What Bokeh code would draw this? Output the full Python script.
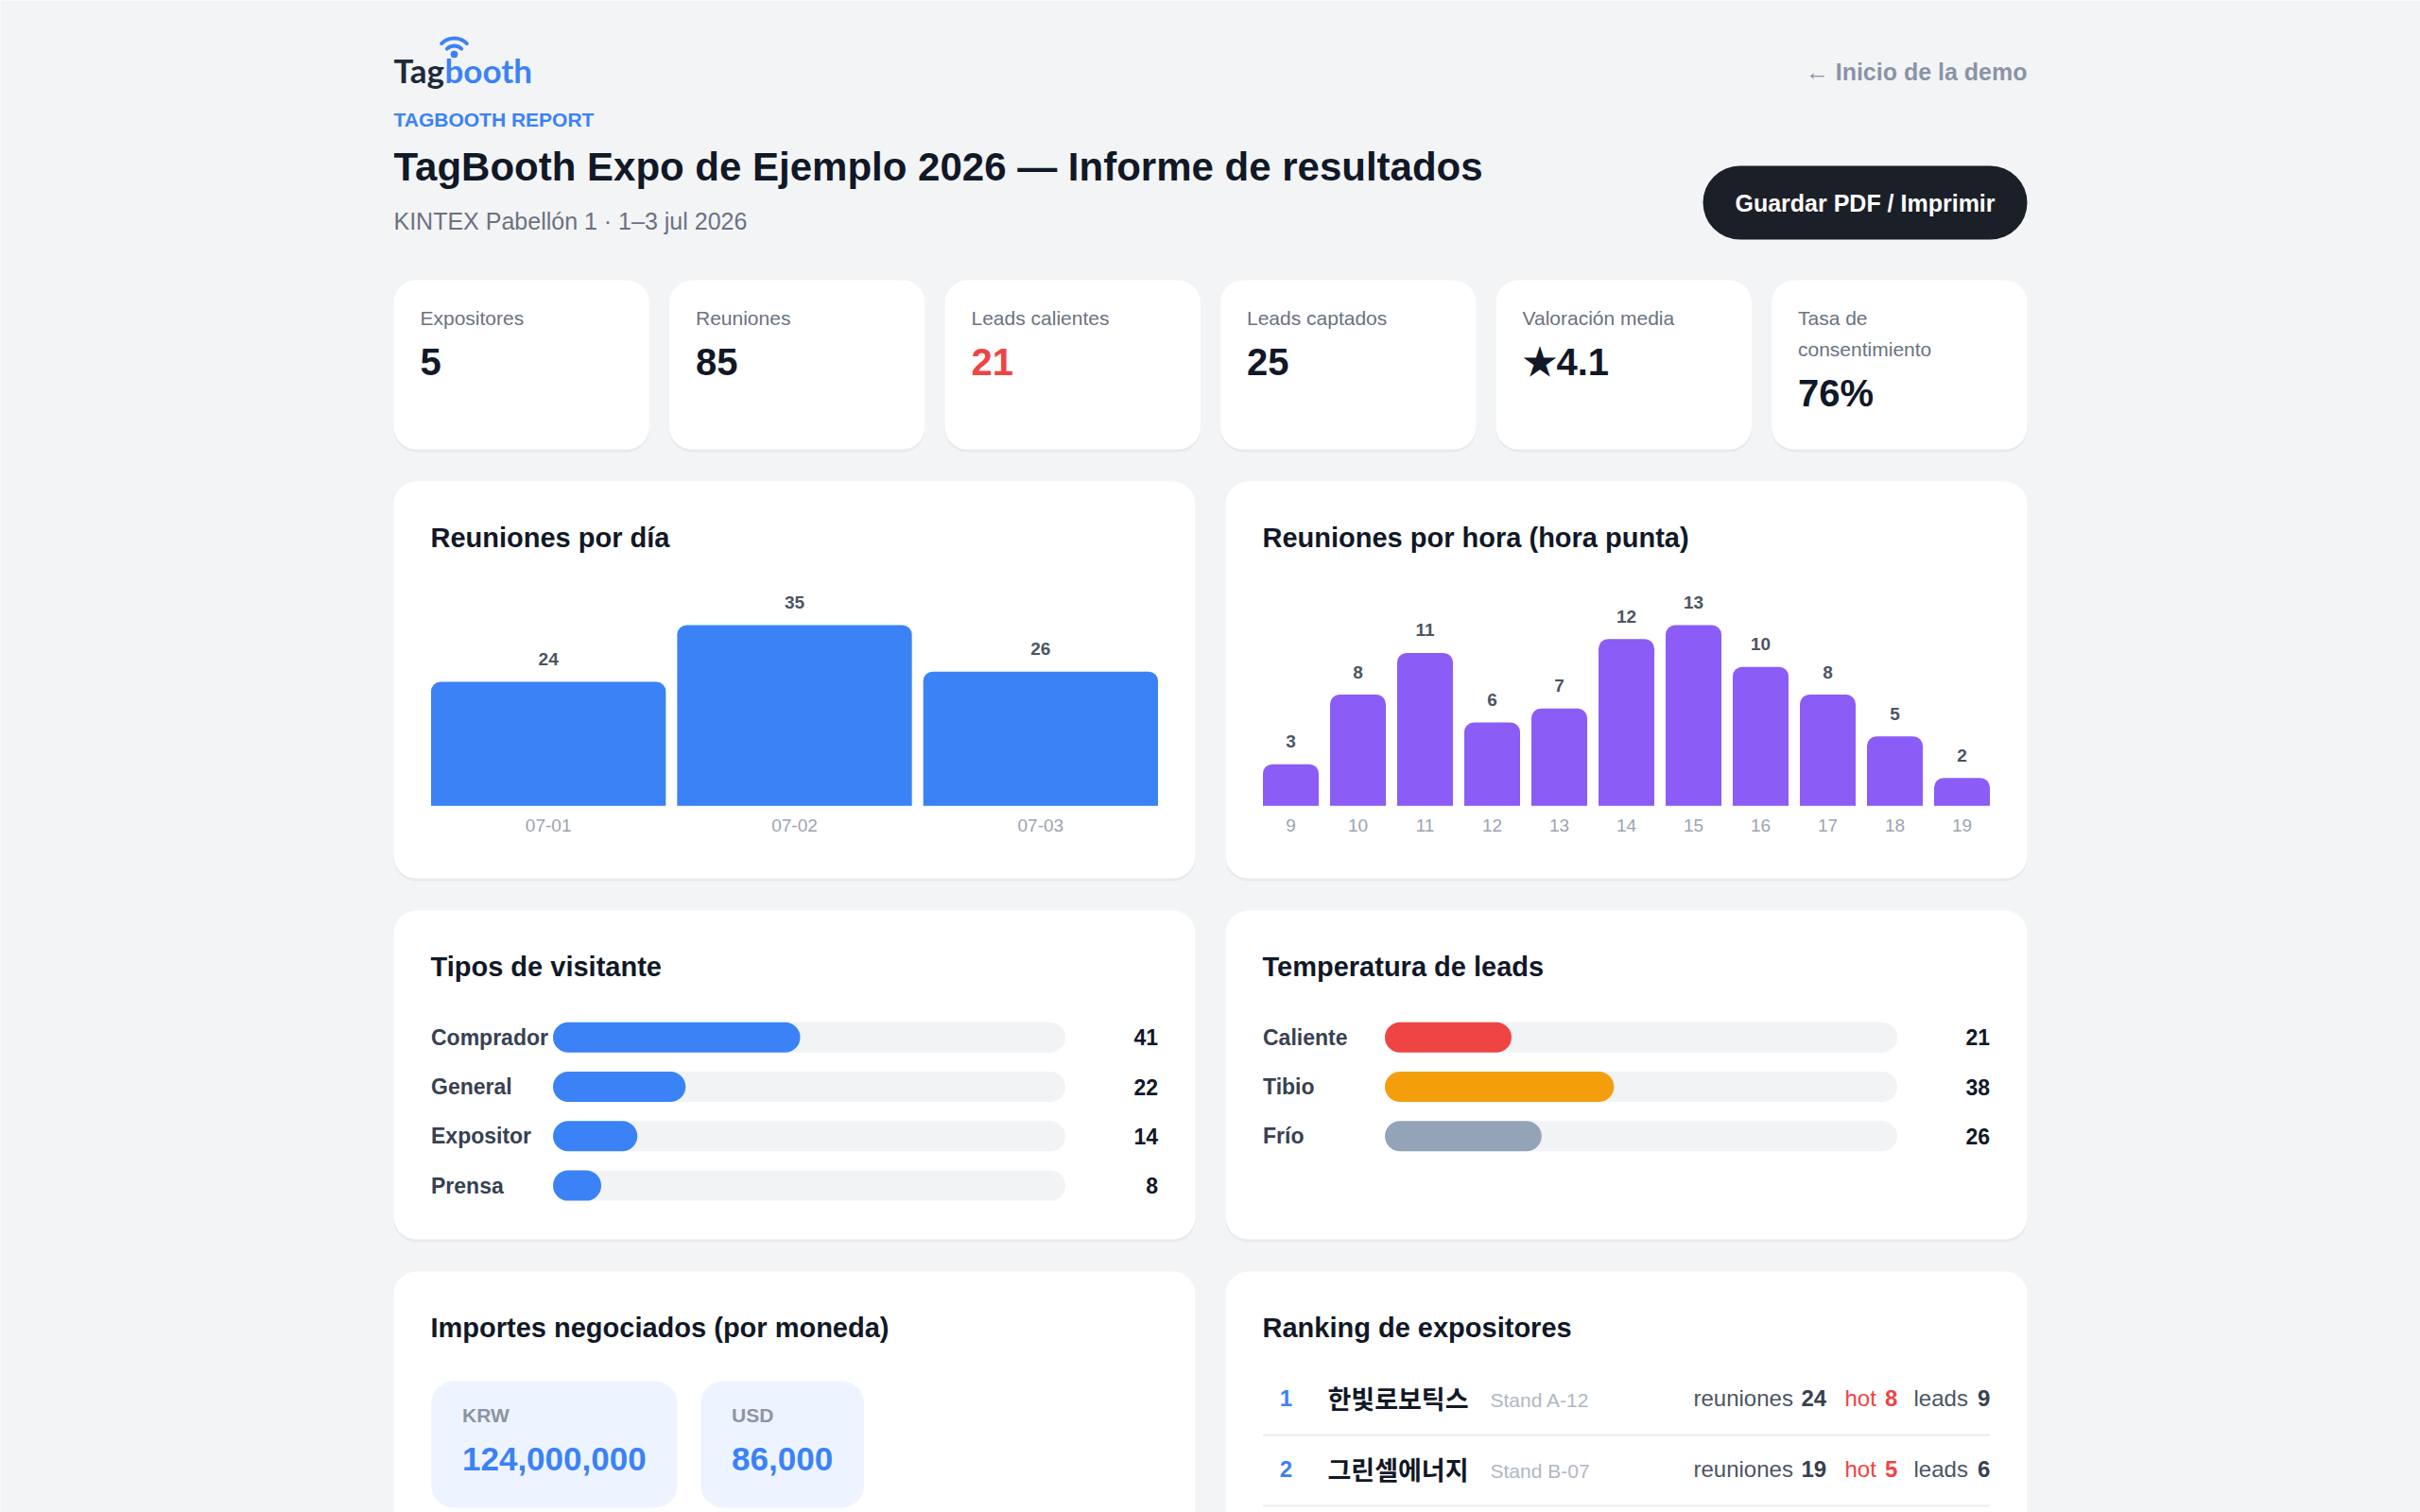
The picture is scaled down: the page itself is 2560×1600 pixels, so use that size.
import math
from bokeh.plotting import figure
from bokeh.models import Range1d
from bokeh.core.properties import value
from bokeh.embed import file_html
from bokeh.resources import INLINE

# ---------------- data ----------------
report_kicker = "TAGBOOTH REPORT"
event_title = "TagBooth Expo de Ejemplo 2026 — Informe de resultados"
event_sub = "KINTEX Pabellón 1 · 1–3 jul 2026"
back_link = "← Inicio de la demo"
button_label = "Guardar PDF / Imprimir"

kpi_labels = ["Expositores", "Reuniones", "Leads calientes", "Leads captados",
              "Valoración media", "Tasa de consentimiento"]
kpi_values = ["5", "85", "21", "25", "★4.1", "76%"]
kpi_colors = ["#111827", "#111827", "#ef4444", "#111827", "#111827", "#111827"]

days = ["07-01", "07-02", "07-03"]
day_meetings = [24, 35, 26]

hours = ["9", "10", "11", "12", "13", "14", "15", "16", "17", "18", "19"]
hour_meetings = [3, 8, 11, 6, 7, 12, 13, 10, 8, 5, 2]

visitor_types = ["Comprador", "General", "Expositor", "Prensa"]
visitor_counts = [41, 22, 14, 8]

lead_temps = ["Caliente", "Tibio", "Frío"]
lead_counts = [21, 38, 26]
lead_colors = ["#ef4444", "#f59e0b", "#94a3b8"]

currencies = ["KRW", "USD"]
amounts = [124000000, 86000]

rank_names = ["한빛로보틱스", "그린셀에너지"]
rank_stands = ["Stand A-12", "Stand B-07"]
rank_meetings = [24, 19]
rank_hot = [8, 5]
rank_leads = [9, 6]

# ---------------- style ----------------
W, H = 2560, 1600
BG = "#f3f4f6"
INK = "#111827"
BLUE = "#3b82f6"
PURPLE = "#8b5cf6"
TRACK = "#f1f3f5"
FONT = "Liberation Sans"
KFONT = "Noto Sans CJK KR"

p = figure(width=W, height=H, x_range=Range1d(0, W), y_range=Range1d(H, 0),
           output_backend="svg", toolbar_location=None, min_border=0,
           x_axis_location=None, y_axis_location=None)
p.grid.visible = False
p.outline_line_color = None
p.background_fill_color = BG
p.border_fill_color = BG


def txt(x, y, s, size, color, bold=False, align="left", baseline="middle",
        font=FONT, **kw):
    xs = x if isinstance(x, list) else [x]
    ys = y if isinstance(y, list) else [y]
    ss = s if isinstance(s, list) else [s]
    p.text(x=xs, y=ys, text=ss, text_font=value(font), text_font_size=f"{size}px",
           text_color=color, text_font_style="bold" if bold else "normal",
           text_align=align, text_baseline=baseline, **kw)


def card(x0, y0, x1, y1, r=24, color="white", shadow=True):
    if shadow:
        p.quad(left=[x0], right=[x1], top=[y0 + 3], bottom=[y1 + 3],
               fill_color="#e4e6ea", fill_alpha=0.7, line_color=None, border_radius=r)
    p.quad(left=[x0], right=[x1], top=[y0], bottom=[y1], fill_color=color,
           line_color=None, border_radius=r)


def x_map(X0, X1, span):
    u = (X1 - X0) / span
    return Range1d(start=-X0 / u, end=(W - X0) / u)


def y_up(B, T, vmax):
    u = (B - T) / vmax
    return Range1d(start=(B - H) / u, end=B / u)


def y_rows(Y0, step):
    return Range1d(start=(H - Y0) / step, end=-Y0 / step)


# ---------------- header ----------------
txt(416, 73, "Tag", 35, "#1e293b", bold=True, baseline="alphabetic", font="Lato")
txt(470, 73, "booth", 35, BLUE, bold=True, baseline="alphabetic", font="Lato")
p.arc(x=[480, 480], y=[59, 59], radius=[11, 19], start_angle=math.pi / 4,
      end_angle=3 * math.pi / 4, line_color=BLUE, line_width=3.8, line_cap="round")
p.scatter(x=[480], y=[57], size=7, color=BLUE)

txt(2144, 75, back_link, 25, "#8a94a6", bold=True, align="right")
txt(416, 126, report_kicker, 21, BLUE, bold=True)
txt(416, 176, event_title, 42, INK, bold=True)
txt(416, 233, event_sub, 25, "#6b7280")

p.quad(left=[1801], right=[2144], top=[175], bottom=[253], fill_color="#1b1f27",
       line_color=None, border_radius=39)
txt(1972.5, 214, button_label, 25, "white", bold=True, align="center")

# ---------------- KPI cards ----------------
KW, KG = 270.5, 21
for i, (lab, val, col) in enumerate(zip(kpi_labels, kpi_values, kpi_colors)):
    x0 = 416 + i * (KW + KG)
    card(x0, 296, x0 + KW, 475)
    words = lab.split(" ")
    lines, cur = [], ""
    for w_ in words:
        cand = (cur + " " + w_).strip()
        if len(cand) > 20 and cur:
            lines.append(cur)
            cur = w_
        else:
            cur = cand
    lines.append(cur)
    for j, ln in enumerate(lines):
        txt(x0 + 28, 336 + 33 * j, ln, 21, "#6b7280")
    txt(x0 + 28, 382 + 33 * (len(lines) - 1), val, 40, col, bold=True)

# ---------------- row 1: bar charts ----------------
LC = (416, 1264)
RC = (1296, 2144)
card(LC[0], 509, LC[1], 929)
card(RC[0], 509, RC[1], 929)
txt(LC[0] + 39, 568, "Reuniones por día", 29, INK, bold=True)
txt(RC[0] + 39, 568, "Reuniones por hora (hora punta)", 29, INK, bold=True)

BASE, TOP = 852.3, 661.0
GAP = 12
for name, cardx, cats, vals, color in [
        ("day", LC, days, day_meetings, BLUE),
        ("hour", RC, hours, hour_meetings, PURPLE)]:
    X0, X1 = cardx[0] + 39.5, cardx[1] - 39.5
    n = len(cats)
    # bars sit flush with the chart edges, separated by a fixed gap
    p.extra_x_ranges[name + "_x"] = x_map(X0 - GAP / 2, X1 + GAP / 2, n)
    p.extra_y_ranges[name + "_y"] = y_up(BASE, TOP, max(vals))
    step = (X1 - X0 + GAP) / n
    xs = [i + 0.5 for i in range(n)]
    p.vbar(x=xs, top=vals, bottom=0, width=(step - GAP) / step, fill_color=color,
           line_color=None, border_radius=(10, 10, 0, 0),
           x_range_name=name + "_x", y_range_name=name + "_y")
    p.text(x=xs, y=vals, text=[str(v) for v in vals], text_font=value(FONT),
           text_font_size="19px", text_font_style="bold", text_color="#4b5563",
           text_align="center", text_baseline="middle", y_offset=-24,
           x_range_name=name + "_x", y_range_name=name + "_y")
    p.text(x=xs, y=[873] * n, text=cats, text_font=value(FONT), text_font_size="19px",
           text_color="#9ca3af", text_align="center", text_baseline="middle",
           x_range_name=name + "_x")

# ---------------- row 2: horizontal distributions ----------------
card(LC[0], 963, LC[1], 1311)
card(RC[0], 963, RC[1], 1311)
txt(LC[0] + 39, 1022, "Tipos de visitante", 29, INK, bold=True)
txt(RC[0] + 39, 1022, "Temperatura de leads", 29, INK, bold=True)

ROW0, ROWSTEP, BARH = 1097.2, 52.3, 32
for name, cardx, cats, vals, colors in [
        ("vis", LC, visitor_types, visitor_counts, [BLUE] * len(visitor_types)),
        ("temp", RC, lead_temps, lead_counts, lead_colors)]:
    total = sum(vals)
    T0, T1 = cardx[0] + 168.5, cardx[0] + 710.6
    p.extra_x_ranges[name + "_x"] = x_map(T0, T1, total)
    p.extra_y_ranges[name + "_y"] = y_rows(ROW0, ROWSTEP)
    idx = list(range(len(cats)))
    p.hbar(y=idx, left=0, right=[total] * len(cats), height=BARH / ROWSTEP,
           fill_color=TRACK, line_color=None, border_radius=16,
           x_range_name=name + "_x", y_range_name=name + "_y")
    p.hbar(y=idx, left=0, right=vals, height=BARH / ROWSTEP, fill_color=colors,
           line_color=None, border_radius=16,
           x_range_name=name + "_x", y_range_name=name + "_y")
    p.text(x=[cardx[0] + 39.5] * len(cats), y=idx, text=cats, text_font=value(FONT),
           text_font_size="23px", text_font_style="bold", text_color="#374151",
           text_align="left", text_baseline="middle", y_range_name=name + "_y")
    p.text(x=[cardx[1] - 39.5] * len(cats), y=idx, text=[str(v) for v in vals],
           text_font=value(FONT), text_font_size="23px", text_font_style="bold",
           text_color=INK, text_align="right", text_baseline="middle",
           y_range_name=name + "_y")

# ---------------- row 3: amounts + ranking ----------------
card(LC[0], 1345, LC[1], 1720)
card(RC[0], 1345, RC[1], 1720)
txt(LC[0] + 39, 1404, "Importes negociados (por moneda)", 29, INK, bold=True)
txt(RC[0] + 39, 1404, "Ranking de expositores", 29, INK, bold=True)

bx = LC[0] + 39.5
for cur, amt in zip(currencies, amounts):
    s = f"{amt:,}"
    nd = sum(c.isdigit() for c in s)
    nc = s.count(",")
    bw = 66 + 35 * (0.556 * nd + 0.278 * nc)
    p.quad(left=[bx], right=[bx + bw], top=[1461], bottom=[1595],
           fill_color="#eef4ff", line_color=None, border_radius=24)
    txt(bx + 33, 1497, cur, 21, "#8b95a5", bold=True)
    txt(bx + 33, 1543, s, 35, BLUE, bold=True)
    bx += bw + 24.5

RY0, RSTEP = 1479, 75
for i, (nm, st, m, h, l) in enumerate(zip(rank_names, rank_stands, rank_meetings,
                                           rank_hot, rank_leads)):
    y = RY0 + i * RSTEP
    txt(RC[0] + 64, y, str(i + 1), 24, BLUE, bold=True, align="center")
    txt(RC[0] + 108, y, nm, 27, INK, bold=True, font=KFONT)
    txt(RC[0] + 280, y + 2, st, 21, "#b0b7c2")
    txt(RC[0] + 495, y, "reuniones", 24, "#4b5563")
    txt(RC[0] + 609, y, str(m), 24, "#374151", bold=True)
    txt(RC[0] + 655, y, "hot", 24, "#ef4444")
    txt(RC[0] + 697.5, y, str(h), 24, "#ef4444", bold=True)
    txt(RC[0] + 728, y, "leads", 24, "#4b5563")
    txt(RC[0] + 795.5, y, str(l), 24, "#374151", bold=True)
    p.segment(x0=[RC[0] + 39.5], x1=[RC[1] - 39.5], y0=[y + 39], y1=[y + 39],
              line_color="#eceef1", line_width=2)

open("out.html", "w").write(file_html(p, INLINE))
